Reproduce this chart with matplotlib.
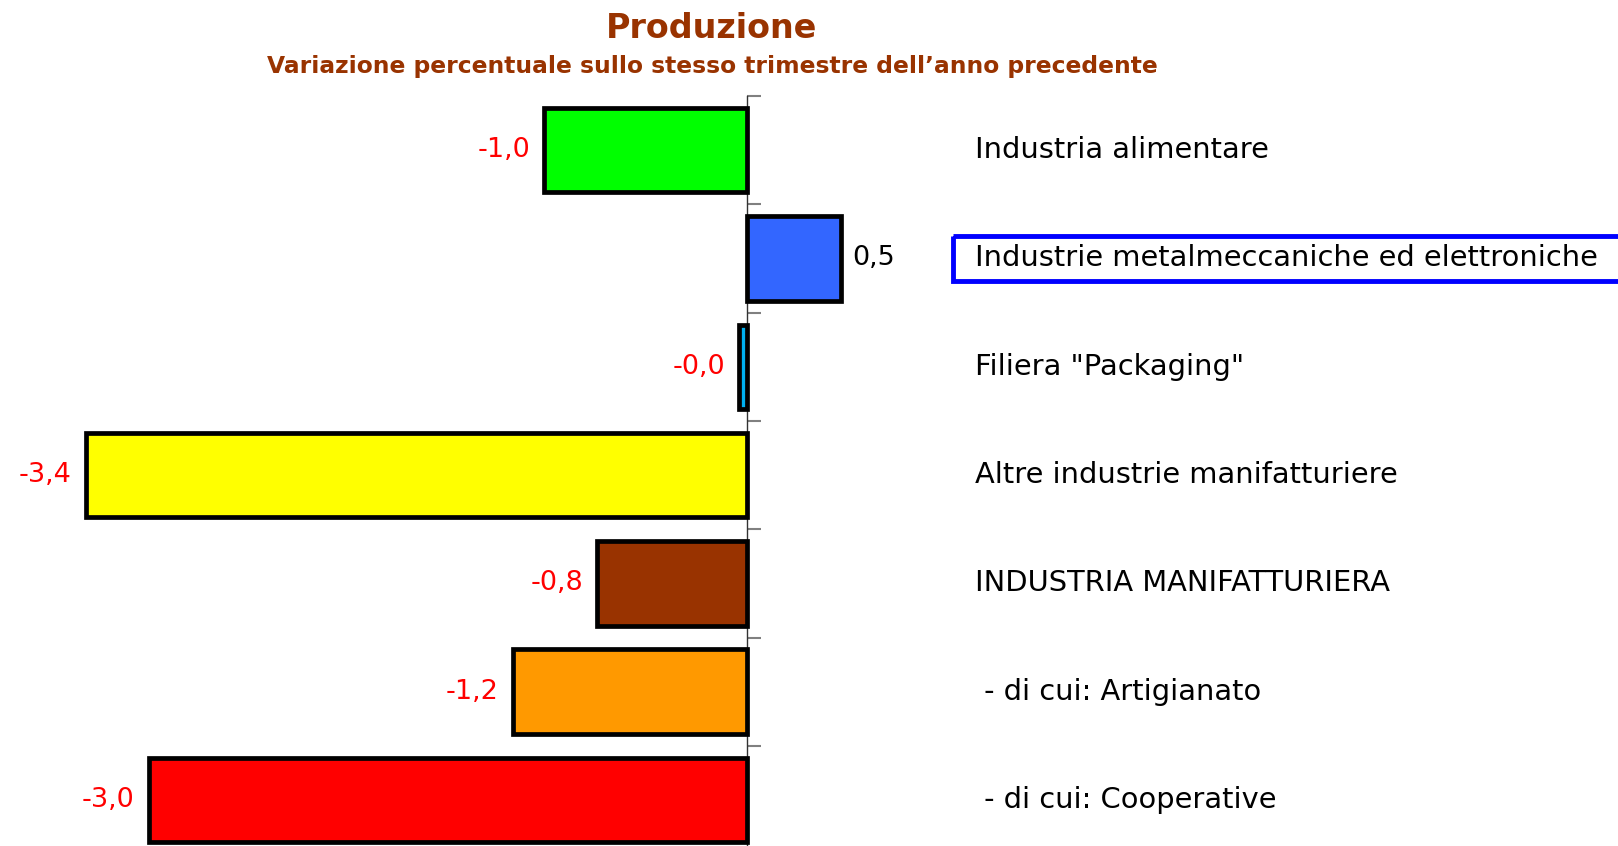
import matplotlib.pyplot as plt
import matplotlib.patches as mpatches
import matplotlib.transforms as mtransforms
import numpy as np

# data
categories = ['Industria alimentare',
              'Industrie metalmeccaniche ed elettroniche',
              'Filiera "Packaging"',
              'Altre industrie manifatturiere',
              'INDUSTRIA MANIFATTURIERA',
              ' - di cui: Artigianato',
              ' - di cui: Cooperative']
values = [-1.03, 0.48, -0.04, -3.36, -0.76, -1.19, -3.04]
colors = ['#00FF00', '#3366FF', '#00B0F0', '#FFFF00', '#993300', '#FF9900', '#FF0000']

title_color = '#993300'

fig = plt.figure(figsize=(16.18, 8.46), dpi=100)
W, H = 1618, 846
# axes: top of axis at y=96px, one category every ~108.3px
top_px, step_px = 96, 108.3
n = len(categories)
bottom_px = top_px + step_px * n
ax = fig.add_axes([0, 1 - bottom_px / H, 1, step_px * n / H])

px_per_unit = 196.8
zero_px = 747
ax.set_xlim(-zero_px / px_per_unit, (W - zero_px) / px_per_unit)
ax.set_ylim(n - 0.5, -0.5)

y = np.arange(n)
ax.barh(y, values, height=0.78, color=colors, edgecolor='black', linewidth=3.4, zorder=3)

for sp in ['top', 'right', 'bottom']:
    ax.spines[sp].set_visible(False)
ax.spines['left'].set_position(('data', 0))
ax.spines['left'].set_color('#333333')
ax.spines['left'].set_linewidth(1.0)
ax.set_yticks(np.arange(n + 1) - 0.5)
ax.set_yticklabels([])
ax.tick_params(axis='y', direction='in', length=10, width=1.5, color='#808080')
ax.set_xticks([])

for yi, v in zip(y, values):
    txt = f'{v:.1f}'.replace('.', ',')
    if v < 0:
        ax.annotate(txt, (v, yi), xytext=(-10, 0), textcoords='offset points',
                    ha='right', va='center', color='red', fontsize=19.5)
    else:
        ax.annotate(txt, (v, yi), xytext=(8, 0), textcoords='offset points',
                    ha='left', va='center', color='black', fontsize=19.5)

label_x = (975 - zero_px) / px_per_unit
for yi, cat in zip(y, categories):
    ax.text(label_x, yi, cat, ha='left', va='center', fontsize=20.8, color='black')

# blue frame around the highlighted sector
trans = mtransforms.blended_transform_factory(fig.transFigure, ax.transData)
box = mpatches.Rectangle((953 / W, 1 - 0.21), 1.0, 0.42, transform=trans,
                         fill=False, edgecolor='#0000FF', linewidth=3.5, clip_on=False)
ax.add_patch(box)

fig.text(712 / W, 1 - 28 / H, 'Produzione', ha='center', va='center',
         fontsize=24, fontweight='bold', color=title_color)
fig.text(712 / W, 1 - 66 / H, "Variazione percentuale sullo stesso trimestre dell\u2019anno precedente",
         ha='center', va='center', fontsize=16.8, fontweight='bold', color=title_color)

fig.savefig('out.png', dpi=100)
